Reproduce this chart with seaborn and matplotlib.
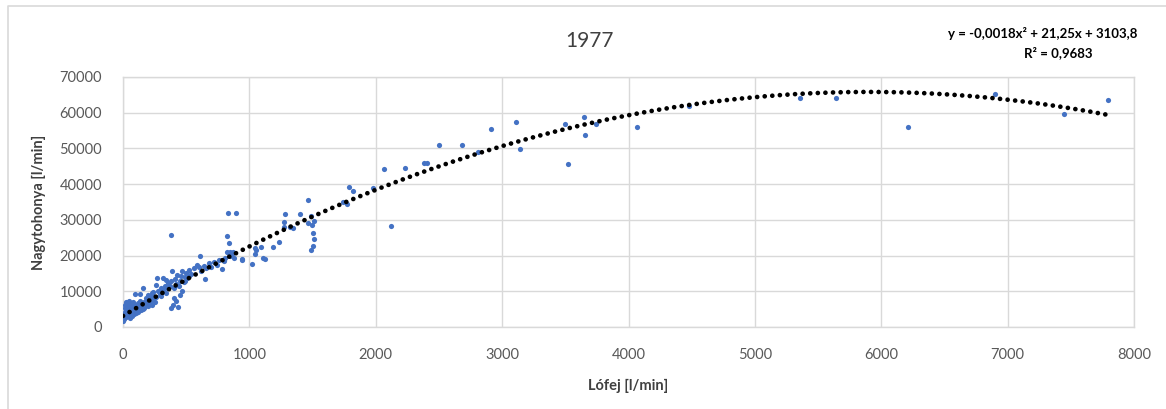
import matplotlib
matplotlib.use("Agg")
import matplotlib.pyplot as plt
from matplotlib.lines import Line2D
import numpy as np
import pandas as pd
import seaborn as sns

# Measured flow pairs, 1977: Lófej (x) vs Nagytohonya (y), both in l/min
lofej = [
    3, 8, 5, 10, 12, 15, 18, 20, 22, 25, 28, 30, 33, 35, 38, 40, 42, 45, 48, 50,
    52, 55, 58, 60, 62, 65, 68, 70, 72, 75, 78, 80, 85, 88, 90, 95, 100, 105, 110, 115,
    120, 125, 130, 135, 140, 145, 150, 155, 160, 165, 170, 180, 190, 200, 210, 220, 230, 240, 250, 260,
    95, 135, 161, 180, 200, 220, 240, 272, 280, 290, 300, 310, 319, 320, 330, 340, 350, 360, 370, 377,
    380, 390, 398, 400, 410, 420, 430, 437, 440, 450, 460, 470, 480, 490, 500, 510, 520, 540, 560, 583,
    600, 609, 620, 640, 650, 660, 680, 700, 720, 740, 760, 780, 800, 810, 826, 836, 826, 850, 870, 830,
    894, 845, 860, 880, 377, 400, 420, 450, 470, 490, 520, 300, 340, 260, 230,
    939, 1021, 1042, 1047, 1090, 1124, 1190, 1237, 1272, 1282, 1272, 1322, 1343, 1398, 1467, 1488, 1461, 1493, 1511, 1501,
    1511, 1501, 1488, 1788, 1822, 1743, 1775, 1976, 2063, 2121, 942, 1050, 1110,
    2234, 2384, 2406, 2501, 2683, 2807, 2910, 3107, 3142, 3495, 3518, 3646, 3658, 3740, 4070, 4480,
    5357, 5640, 6209, 6900, 7449, 7792,
]
nagytohonya = [
    1800, 2200, 2600, 3200, 4100, 5200, 6200, 7100, 2800, 3600, 4600, 5800, 6800, 3000, 4000, 5000, 6000, 7300, 3400, 4400,
    5400, 6400, 2600, 3800, 4800, 5600, 6600, 3200, 4200, 5100, 6100, 7000, 3600, 4500, 5500, 6300, 4000, 4900, 5800, 6700,
    4300, 5200, 6100, 7200, 4700, 5600, 6500, 5000, 5900, 6900, 5300, 6200, 7400, 5800, 6700, 7600, 6300, 7900, 7000, 8300,
    9200, 9200, 10800, 8200, 9000, 8700, 9800, 13600, 10200, 9200, 11000, 9800, 13600, 10500, 11600, 9600, 10900, 12200, 11400, 5200,
    12800, 15800, 6200, 10800, 13400, 12000, 14600, 5600, 11600, 13000, 14400, 15800, 12600, 14000, 15200, 13600, 16000, 14800, 16400, 17300,
    16800, 19800, 15600, 17200, 13400, 16600, 17800, 16900, 18200, 17400, 18800, 16200, 18600, 19400, 25500, 23400, 21100, 21100, 21100, 32000,
    32000, 19800, 20400, 19200, 25900, 8000, 7200, 9000, 10200, 12800, 14200, 8600, 13200, 11800, 9400,
    19000, 17600, 20500, 22200, 22500, 19000, 22500, 23800, 29500, 31500, 27900, 27900, 27600, 31500, 35600, 31100, 29000, 28600, 29700, 26200,
    24600, 22600, 21500, 39300, 38100, 35100, 34300, 38800, 44200, 28300, 18900, 21700, 19200,
    44500, 45800, 45800, 51000, 51000, 49100, 55400, 57500, 49700, 56700, 45700, 58700, 53800, 56700, 55900, 61800,
    64000, 64000, 55900, 65200, 59600, 63600,
]

# Second-order polynomial trendline coefficients (as printed on the chart)
a2, a1, a0 = -0.0018, 21.25, 3103.8
r_squared = 0.9683

x_ticks = list(range(0, 8001, 1000))
y_ticks = list(range(0, 70001, 10000))

points = pd.DataFrame({"Lófej": lofej, "Nagytohonya": nagytohonya})
trend_x = np.linspace(0, max(lofej), 400)
trend = pd.DataFrame({"Lófej": trend_x, "Nagytohonya": a2 * trend_x**2 + a1 * trend_x + a0})

sns.set_style("white")
plt.rcParams["font.family"] = ["Lato", "DejaVu Sans"]

grid_c = "#d9d9d9"
tick_c = "#595959"
label_c = "#404040"

fig = plt.figure(figsize=(11.66, 4.09), dpi=100)
ax = fig.add_axes([123 / 1166, 1 - 327 / 409, (1134 - 123) / 1166, (327 - 77) / 409])

sns.scatterplot(data=points, x="Lófej", y="Nagytohonya", ax=ax, color="#4472c4",
                s=14, linewidth=0, zorder=3)
sns.lineplot(data=trend, x="Lófej", y="Nagytohonya", ax=ax, color="black",
             linewidth=3.4, linestyle=(0, (0.01, 1.6)), dash_capstyle="round", zorder=4)

ax.set_xlim(0, 8000)
ax.set_ylim(0, 70000)
ax.set_xticks(x_ticks)
ax.set_yticks(y_ticks)
ax.set_xticklabels([str(v) for v in x_ticks])
ax.set_yticklabels([str(v) for v in y_ticks])
ax.grid(True, color=grid_c, linewidth=1.0)
ax.set_axisbelow(True)
for sp in ax.spines.values():
    sp.set_color(grid_c)
    sp.set_linewidth(1.0)
ax.tick_params(axis="both", length=0, labelsize=10.5, labelcolor=tick_c)
ax.tick_params(axis="x", pad=15)
ax.tick_params(axis="y", pad=15)

ax.set_xlabel("Lófej [l/min]", fontsize=10.5, fontweight="bold", color=label_c, labelpad=12)
ax.set_ylabel("Nagytohonya [l/min]", fontsize=10.5, fontweight="bold", color=label_c, labelpad=10)

fig.text(590 / 1166, 1 - 41 / 409, "1977", fontsize=15, color=label_c, ha="center", va="center")
eq = f"y = {a2:.4f}x² + {a1:.2f}x + {a0:.1f}".replace(".", ",")
fig.text(1043 / 1166, 1 - 34 / 409, eq, fontsize=9.5, fontweight="bold", color="black",
         ha="center", va="center")
fig.text(1058 / 1166, 1 - 53 / 409, f"R² = {r_squared:.4f}".replace(".", ","), fontsize=9.5,
         fontweight="bold", color="black", ha="center", va="center")

# outer chart-area frame (left and top edges)
fig.add_artist(Line2D([8 / 1166, 8 / 1166, 1.0], [0.0, 1 - 5.5 / 409, 1 - 5.5 / 409],
                      transform=fig.transFigure, color=grid_c, linewidth=1.2))

fig.savefig("out.png", dpi=100)
